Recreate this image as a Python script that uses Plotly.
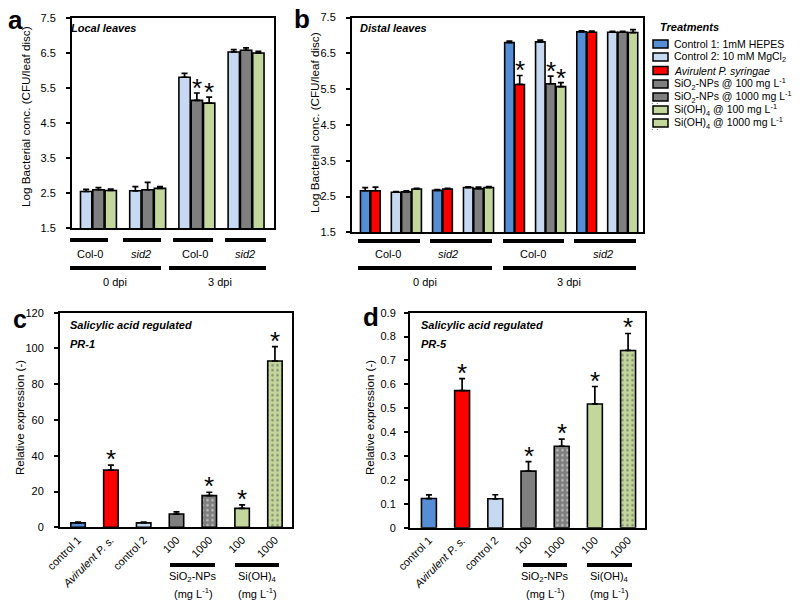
import plotly.graph_objects as go

FONT = "Liberation Sans, Arial, sans-serif"
W, H = 800, 604

# ---------------- colours ----------------
C_CTRL1 = "#558ED5"
C_CTRL2 = "#C6D9F1"
C_AVIR = "#FF0000"
C_SIO2 = "#7F7F7F"
C_SIOH = "#C3D69B"

# ---------------- panel a (local leaves) ----------------
a_genotypes = ["Col-0", "<i>sid2</i>", "Col-0", "<i>sid2</i>"]
a_times = ["0 dpi", "3 dpi"]
a_ctrl2 = [2.55, 2.57, 5.81, 6.53]
a_ctrl2_err = [0.06, 0.12, 0.11, 0.07]
a_sio2 = [2.60, 2.60, 5.15, 6.58]
a_sio2_err = [0.06, 0.21, 0.21, 0.07]
a_sioh = [2.58, 2.64, 5.07, 6.50]
a_sioh_err = [0.04, 0.05, 0.17, 0.05]
a_star_sio2 = [0, 0, 1, 0]
a_star_sioh = [0, 0, 1, 0]

# ---------------- panel b (distal leaves) ----------------
b_genotypes = ["Col-0", "<i>sid2</i>", "Col-0", "<i>sid2</i>"]
b_times = ["0 dpi", "3 dpi"]
b_ctrl1 = [2.66, 2.67, 6.80, 7.10]
b_ctrl1_err = [0.09, 0.02, 0.04, 0.03]
b_avir = [2.66, 2.71, 5.63, 7.09]
b_avir_err = [0.10, 0.02, 0.25, 0.03]
b_ctrl2 = [2.62, 2.75, 6.82, 7.09]
b_ctrl2_err = [0.02, 0.02, 0.05, 0.02]
b_sio2 = [2.63, 2.72, 5.65, 7.09]
b_sio2_err = [0.03, 0.04, 0.21, 0.02]
b_sioh = [2.71, 2.75, 5.57, 7.08]
b_sioh_err = [0.02, 0.03, 0.11, 0.08]
b_star_avir = [0, 0, 1, 0]
b_star_sio2 = [0, 0, 1, 0]
b_star_sioh = [0, 0, 1, 0]

# ---------------- panels c / d (gene expression) ----------------
cd_labels = ["control 1", "<i>Avirulent P. s.</i>", "control 2", "100", "1000", "100", "1000"]
cd_colors = [C_CTRL1, C_AVIR, C_CTRL2, C_SIO2, C_SIO2, C_SIOH, C_SIOH]
cd_dotted = [0, 0, 0, 0, 1, 0, 1]
c_pr1 = [2.5, 32.0, 2.5, 7.4, 17.7, 10.6, 93.0]
c_pr1_err = [0.4, 2.8, 0.4, 1.2, 1.9, 1.9, 8.0]
c_star = [0, 1, 0, 0, 1, 1, 1]
d_pr5 = [0.122, 0.574, 0.121, 0.237, 0.341, 0.518, 0.742]
d_pr5_err = [0.015, 0.050, 0.017, 0.040, 0.030, 0.073, 0.071]
d_star = [0, 1, 0, 1, 1, 1, 1]

legend_labels = [
    "Control 1: 1mM HEPES",
    "Control 2: 10 mM MgCl<sub>2</sub>",
    "<i>Avirulent P. syringae</i>",
    "SiO<sub>2</sub>-NPs @ 100 mg L<sup>-1</sup>",
    "SiO<sub>2</sub>-NPs @ 1000 mg L<sup>-1</sup>",
    "Si(OH)<sub>4</sub> @ 100 mg L<sup>-1</sup>",
    "Si(OH)<sub>4</sub> @ 1000 mg L<sup>-1</sup>",
]
legend_colors = [C_CTRL1, C_CTRL2, C_AVIR, C_SIO2, C_SIO2, C_SIOH, C_SIOH]
legend_dotted = [0, 0, 0, 0, 1, 0, 1]


def px(x):
    return x / W


def py(y):
    return 1 - y / H


fig = go.Figure()
OUT = dict(color="black", width=1.6)


def err(vals):
    return dict(type="data", symmetric=False, array=vals, arrayminus=[0] * len(vals),
                color="black", thickness=1.7, width=3)


annotations = []
shapes = []


def stars(xs, tops, errs, flags, xref, yref, shift=0):
    for x, t, e, f in zip(xs, tops, errs, flags):
        if f:
            annotations.append(dict(x=x, y=t + e, xref=xref, yref=yref, text="*",
                                    showarrow=False, yanchor="bottom", yshift=-12 + shift,
                                    font=dict(family=FONT, size=26, color="black")))


# panel a bars
a_slots = [[g * 4 + k for g in range(4)] for k in range(3)]
for k, (vals, errs, col) in enumerate([(a_ctrl2, a_ctrl2_err, C_CTRL2),
                                       (a_sio2, a_sio2_err, C_SIO2),
                                       (a_sioh, a_sioh_err, C_SIOH)]):
    fig.add_trace(go.Bar(x=a_slots[k], y=vals, width=0.92,
                         marker=dict(color=col, line=OUT), error_y=err(errs),
                         xaxis="x", yaxis="y", showlegend=False))
stars(a_slots[1], a_sio2, a_sio2_err, a_star_sio2, "x", "y")
stars(a_slots[2], a_sioh, a_sioh_err, a_star_sioh, "x", "y")

# panel b bars
b_offsets = [0, 1, 3, 4, 5]
b_series = [(b_ctrl1, b_ctrl1_err, C_CTRL1), (b_avir, b_avir_err, C_AVIR),
            (b_ctrl2, b_ctrl2_err, C_CTRL2), (b_sio2, b_sio2_err, C_SIO2),
            (b_sioh, b_sioh_err, C_SIOH)]
b_slots = [[g * 7 + o for g in range(4)] for o in b_offsets]
for k, (vals, errs, col) in enumerate(b_series):
    fig.add_trace(go.Bar(x=b_slots[k], y=vals, width=0.92,
                         marker=dict(color=col, line=OUT), error_y=err(errs),
                         xaxis="x2", yaxis="y2", showlegend=False))
stars(b_slots[1], b_avir, b_avir_err, b_star_avir, "x2", "y2")
stars(b_slots[3], b_sio2, b_sio2_err, b_star_sio2, "x2", "y2")
stars(b_slots[4], b_sioh, b_sioh_err, b_star_sioh, "x2", "y2")

# panels c, d
pattern = dict(shape=["." if d else "" for d in cd_dotted], fgcolor="#222222",
               bgcolor=cd_colors, size=5, solidity=0.2, fillmode="overlay")
cd_x = list(range(7))
fig.add_trace(go.Bar(x=cd_x, y=c_pr1, width=0.44,
                     marker=dict(color=cd_colors, line=OUT, pattern=pattern),
                     error_y=err(c_pr1_err), xaxis="x3", yaxis="y3", showlegend=False))
fig.add_trace(go.Bar(x=cd_x, y=d_pr5, width=0.45,
                     marker=dict(color=cd_colors, line=OUT, pattern=pattern),
                     error_y=err(d_pr5_err), xaxis="x4", yaxis="y4", showlegend=False))
stars(cd_x, c_pr1, c_pr1_err, c_star, "x3", "y3", shift=1)
stars(cd_x, d_pr5, d_pr5_err, d_star, "x4", "y4", shift=1)

# ---------------- text helpers ----------------


def text(x, y, s, size=11, bold=False, italic=False, xanchor="center", angle=0):
    if italic:
        s = "<i>" + s + "</i>"
    if bold:
        s = "<b>" + s + "</b>"
    annotations.append(dict(x=px(x), y=py(y), xref="paper", yref="paper", text=s,
                            showarrow=False, xanchor=xanchor, yanchor="middle",
                            textangle=angle, font=dict(family=FONT, size=size, color="black")))


def hline(x0, x1, y, w=4):
    shapes.append(dict(type="line", xref="paper", yref="paper", x0=px(x0), x1=px(x1),
                       y0=py(y), y1=py(y), line=dict(color="black", width=w)))


# panel letters
text(15, 20, "a", size=26, bold=True)
text(302, 19, "b", size=26, bold=True)
text(20, 319, "c", size=25, bold=True)
text(371, 317, "d", size=26, bold=True)

# y titles
text(25, 117, "Log Bacterial conc. (CFU/leaf disc)", angle=-90, size=11.7)
text(315, 123, "Log Bacterial conc. (CFU/leaf disc)", angle=-90, size=11.7)
text(20, 418, "Relative expression (-)", angle=-90, size=11.5)
text(370, 418, "Relative expression (-)", angle=-90, size=11.5)

# in-plot titles
text(69, 28, "Local leaves", bold=True, italic=True, xanchor="left")
text(358, 28, "Distal leaves", bold=True, italic=True, xanchor="left")
text(68, 325, "Salicylic acid regulated", bold=True, italic=True, xanchor="left")
text(68, 344, "PR-1", bold=True, italic=True, xanchor="left")
text(419, 325, "Salicylic acid regulated", bold=True, italic=True, xanchor="left")
text(419, 344, "PR-5", bold=True, italic=True, xanchor="left")

# panel a group labels
for (x0, x1), cx, lab in zip([(70, 108), (123, 161), (173, 213), (225, 266)],
                             [90, 141, 195, 245], a_genotypes):
    hline(x0, x1, 240)
    text(cx, 254, lab)
for (x0, x1), cx, lab in zip([(70, 161), (169, 266)], [115, 220], a_times):
    hline(x0, x1, 268)
    text(cx, 282, lab)

# panel b group labels
for (x0, x1), cx, lab in zip([(358, 420), (430, 492), (503, 564), (574, 636)],
                             [388, 448, 533, 603], b_genotypes):
    hline(x0, x1, 241)
    text(cx, 254, lab)
for (x0, x1), cx, lab in zip([(358, 492), (503, 636)], [425, 569], b_times):
    hline(x0, x1, 268)
    text(cx, 282, lab)

# panel c/d brackets
for (x0, x1), cx, lab in [((170, 215), 193, "SiO<sub>2</sub>-NPs"), ((235, 279), 257, "Si(OH)<sub>4</sub>"),
                          ((523, 567), 545, "SiO<sub>2</sub>-NPs"), ((587, 632), 609, "Si(OH)<sub>4</sub>")]:
    hline(x0, x1, 565)
    text(cx, 577, lab)
    text(cx, 593, "(mg L<sup>-1</sup>)")

# legend (manual)
text(658, 27, "Treatments", bold=True, italic=True, xanchor="left")
leg_y = [44, 57, 70.5, 84, 97, 110, 123]
for yy, lab, col, dot in zip(leg_y, legend_labels, legend_colors, legend_dotted):
    shapes.append(dict(type="rect", xref="paper", yref="paper", x0=px(653), x1=px(668),
                       y0=py(yy + 4), y1=py(yy - 4), fillcolor=col,
                       line=dict(color="black", width=1.5)))
    if dot:
        annotations.append(dict(x=px(660.5), y=py(yy), xref="paper", yref="paper",
                                text="\u00b7 \u00b7", showarrow=False,
                                font=dict(family=FONT, size=8, color="#222222")))
    text(672, yy, lab, xanchor="left", size=10.5)

# ---------------- axes ----------------
TF = dict(family=FONT, size=11, color="black")


def yax(domain, rng, dtick, anchor, standoff):
    return dict(domain=domain, range=rng, dtick=dtick, tick0=rng[0], anchor=anchor,
                showline=True, linecolor="black", linewidth=2, mirror=True,
                ticks="outside", ticklen=4, tickwidth=1.5, tickcolor="black",
                showgrid=False, zeroline=False, tickfont=TF, ticklabelstandoff=standoff,
                automargin=False)


def xax(domain, rng, anchor, **kw):
    d = dict(domain=domain, range=rng, anchor=anchor, showline=True, linecolor="black",
             linewidth=2, mirror=True, ticks="", showgrid=False, zeroline=False,
             showticklabels=False, automargin=False)
    d.update(kw)
    return d


fig.update_layout(
    width=W, height=H, margin=dict(l=0, r=0, t=0, b=0, autoexpand=False),
    paper_bgcolor="white", plot_bgcolor="white", barmode="overlay",
    font=dict(family=FONT, size=11, color="black"),
    showlegend=False,
    xaxis=xax([px(72), px(274)], [-1.15, 15.27], "y"),
    yaxis=yax([py(228.3), py(18)], [1.5, 7.5], 1, "x", 8),
    xaxis2=xax([px(352), px(643)], [-1.28, 26.97], "y2"),
    yaxis2=yax([py(232.3), py(17.5)], [1.5, 7.5], 1, "x2", 8),
    xaxis3=xax([px(60), px(292)], [-0.55, 6.52], "y3", showticklabels=True,
               tickvals=cd_x, ticktext=cd_labels, tickangle=-45, tickfont=TF),
    yaxis3=yax([py(527.3), py(312.7)], [0, 120], 20, "x3", 8),
    xaxis4=xax([px(410), px(645)], [-0.57, 6.51], "y4", showticklabels=True,
               tickvals=cd_x, ticktext=cd_labels, tickangle=-45, tickfont=TF),
    yaxis4=yax([py(527.7), py(312.7)], [0, 0.9], 0.1, "x4", 6),
    annotations=annotations, shapes=shapes,
)

fig.write_html("out.html", config={"displayModeBar": False},
               post_script="document.body.style.margin='0';document.body.style.overflow='hidden';")
